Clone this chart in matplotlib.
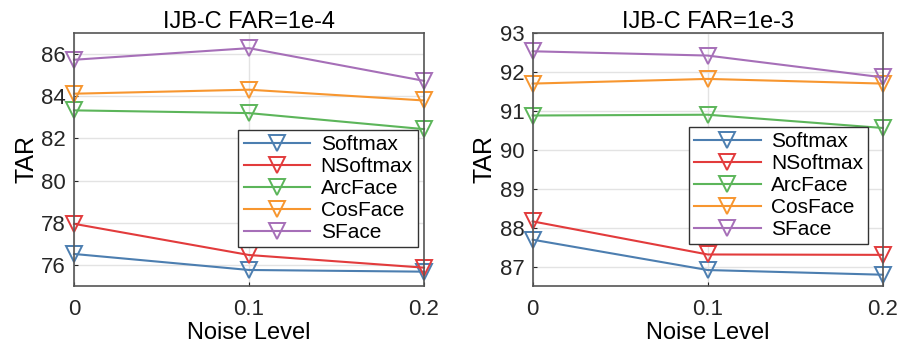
import matplotlib
matplotlib.use('Agg')
import matplotlib.pyplot as plt

plt.rcParams['font.family'] = ['Liberation Sans', 'DejaVu Sans']

# noise levels on the x axis
noise = [0, 0.1, 0.2]
methods = ['Softmax', 'NSoftmax', 'ArcFace', 'CosFace', 'SFace']
colors = ['#4C7EB0', '#E23B3C', '#5CB55A', '#F7962F', '#A66FB8']

# TAR at FAR=1e-4
tar_1e4_softmax = [76.52, 75.76, 75.68]
tar_1e4_nsoftmax = [77.95, 76.47, 75.87]
tar_1e4_arcface = [83.33, 83.20, 82.44]
tar_1e4_cosface = [84.12, 84.31, 83.80]
tar_1e4_sface = [85.73, 86.28, 84.73]

# TAR at FAR=1e-3
tar_1e3_softmax = [87.69, 86.91, 86.79]
tar_1e3_nsoftmax = [88.16, 87.31, 87.30]
tar_1e3_arcface = [90.88, 90.90, 90.56]
tar_1e3_cosface = [91.70, 91.82, 91.70]
tar_1e3_sface = [92.53, 92.42, 91.86]

panels = [
    ('IJB-C FAR=1e-4',
     [tar_1e4_softmax, tar_1e4_nsoftmax, tar_1e4_arcface, tar_1e4_cosface, tar_1e4_sface],
     (75, 87), [76, 78, 80, 82, 84, 86], (0.983, 0.154)),
    ('IJB-C FAR=1e-3',
     [tar_1e3_softmax, tar_1e3_nsoftmax, tar_1e3_arcface, tar_1e3_cosface, tar_1e3_sface],
     (86.5, 93), [87, 88, 89, 90, 91, 92, 93], (0.959, 0.166)),
]

fig = plt.figure(figsize=(9.01, 3.49), dpi=100)
lefts = [0.0821, 0.5912]

for left, (title, series, ylim, yticks, leg_pos) in zip(lefts, panels):
    ax = fig.add_axes([left, 0.1805, 0.3885, 0.725])
    for name, vals, c in zip(methods, series, colors):
        ax.plot(noise, vals, color=c, lw=1.5, marker='v', markersize=11,
                markerfacecolor='none', markeredgewidth=1.4, label=name,
                clip_on=False)
    ax.set_xlim(0, 0.2)
    ax.set_ylim(*ylim)
    ax.set_xticks(noise)
    ax.set_xticklabels(['0', '0.1', '0.2'])
    ax.set_yticks(yticks)
    ax.grid(True, color='#E3E3E3', lw=1)
    ax.set_axisbelow(True)
    for s in ax.spines.values():
        s.set_color('#555555')
        s.set_linewidth(1.2)
    ax.tick_params(direction='in', length=3, labelsize=16, colors='#262626', pad=6)
    ax.tick_params(axis='x', pad=9)
    ax.set_title(title, fontsize=17, pad=3)
    ax.set_xlabel('Noise Level', fontsize=17, labelpad=2)
    ax.set_ylabel('TAR', fontsize=18, labelpad=2)
    leg = ax.legend(loc='lower right', bbox_to_anchor=leg_pos, borderaxespad=0,
                    fontsize=15, frameon=True, fancybox=False, framealpha=1,
                    handlelength=3.2, handletextpad=0.5, labelspacing=0.14,
                    borderpad=0.25)
    leg.get_frame().set_edgecolor('#333333')
    leg.get_frame().set_linewidth(1.0)

fig.savefig('out.png', dpi=100)
